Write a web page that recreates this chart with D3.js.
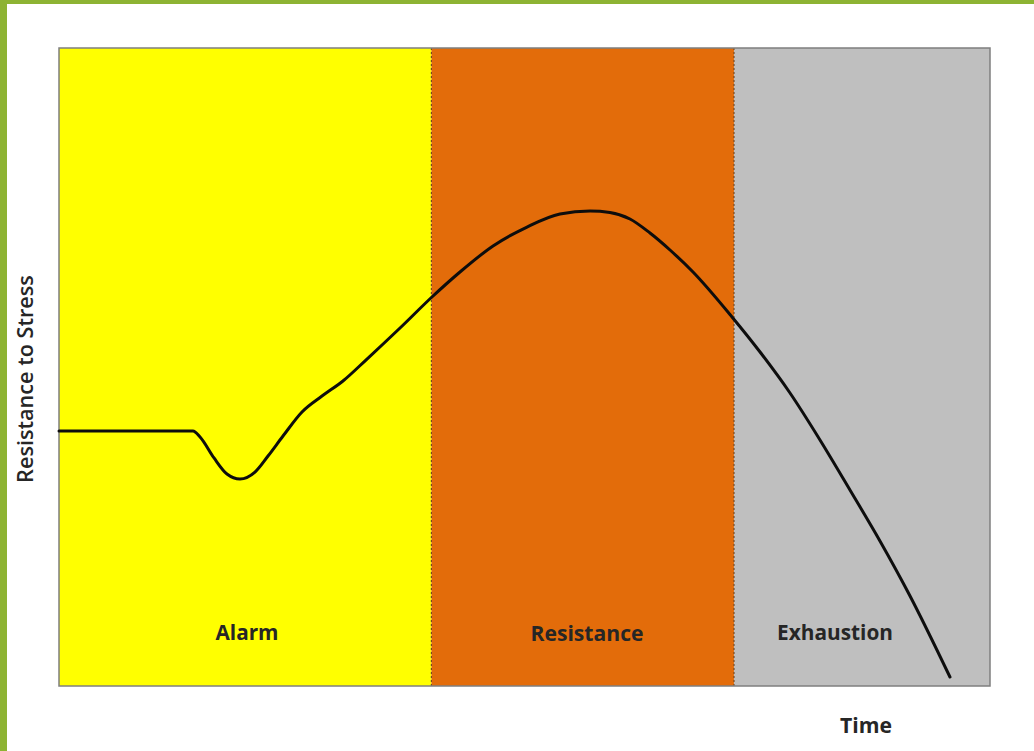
<!DOCTYPE html>
<html><head><meta charset="utf-8">
<script src="https://cdn.jsdelivr.net/npm/d3@7"></script>
<style>html,body{margin:0;padding:0;background:#fff;}svg{display:block;}</style>
</head><body>
<svg id="chart" width="1034" height="751"></svg>
<script>
// Data (time units 0-100, resistance units 0-100)
const phaseNames = ["Alarm", "Resistance", "Exhaustion"];
const phaseStart = [0, 40, 72.5];
const phaseEnd   = [40, 72.5, 100];
const phaseColors = ["#FFFF00", "#E36C0A", "#BFBFBF"];
const curveTime = [0, 14.39, 15.15, 16.65, 18.04, 19.44, 21.05, 22.45, 24.06, 26.10, 28.25, 30.50, 33.08, 36.63, 40.06, 43.07, 46.62, 50.27, 53.81, 57.04, 59.18, 61.33, 63.48, 65.63, 68.10, 72.29, 75.30, 78.52, 81.74, 84.96, 88.18, 91.41, 95.70];
const curveResistance = [39.97, 39.97, 39.03, 35.74, 33.23, 32.45, 33.54, 36.05, 39.18, 42.95, 45.45, 47.81, 51.25, 56.11, 60.97, 64.89, 68.97, 71.94, 73.98, 74.45, 74.22, 73.20, 71.00, 68.34, 64.89, 57.84, 52.35, 45.92, 38.56, 30.72, 22.73, 14.11, 1.41];
const xLabel = "Time";
const yLabel = "Resistance to Stress";

const svg = d3.select("#chart");
const W = 1034, H = 751;
const m = {left: 59, top: 48, right: 1034 - 990, bottom: 751 - 686};

// green frame
svg.append("rect").attr("x",0).attr("y",0).attr("width",W).attr("height",H).attr("fill","#fff");
svg.append("rect").attr("x",0).attr("y",0).attr("width",7).attr("height",H).attr("fill","#8DB333");
svg.append("rect").attr("x",0).attr("y",0).attr("width",W).attr("height",4).attr("fill","#8DB333");

const x = d3.scaleLinear().domain([0,100]).range([m.left, W - m.right]);
const y = d3.scaleLinear().domain([0,100]).range([H - m.bottom, m.top]);

const phases = phaseNames.map((n,i)=>({name:n, s:phaseStart[i], e:phaseEnd[i], c:phaseColors[i]}));

svg.append("g").selectAll("rect").data(phases).join("rect")
  .attr("x", d=>x(d.s)).attr("y", y(100))
  .attr("width", d=>x(d.e)-x(d.s)).attr("height", y(0)-y(100))
  .attr("fill", d=>d.c);

// dashed phase boundaries
svg.append("g").selectAll("line").data(phaseStart.slice(1)).join("line")
  .attr("x1", d=>x(d)).attr("x2", d=>x(d)).attr("y1", y(100)).attr("y2", y(0))
  .attr("stroke", "#7a4a20").attr("stroke-width", 1.2).attr("stroke-dasharray", "2,2");

// frame of plot
svg.append("rect").attr("x", x(0)).attr("y", y(100)).attr("width", x(100)-x(0)).attr("height", y(0)-y(100))
  .attr("fill","none").attr("stroke","#7f7f7f").attr("stroke-width",1.5);

// curve
const pts = curveTime.map((t,i)=>[t, curveResistance[i]]);
svg.append("path").datum(pts)
  .attr("d", d3.line().x(d=>x(d[0])).y(d=>y(d[1])).curve(d3.curveMonotoneX))
  .attr("fill","none").attr("stroke","#0d0d0d").attr("stroke-width",3).attr("stroke-linecap","round").attr("stroke-linejoin","round");

function fitText(sel, targetW) {
  const node = sel.node();
  const w = node.getComputedTextLength();
  const fs = parseFloat(sel.attr("font-size"));
  sel.attr("font-size", fs * targetW / w);
  return fs * targetW / w;
}

const labelCenters = [247, 587, 835];
const labelWidths = [63, 113, 116];
phases.forEach((p,i)=>{
  const t = svg.append("text").text(p.name)
    .attr("font-family","'Open Sans', sans-serif").attr("font-weight",700)
    .attr("font-size",20).attr("fill","#262626").attr("text-anchor","middle")
    .attr("x", labelCenters[i]);
  const fs = fitText(t, labelWidths[i]);
  t.attr("y", 633 + 0.36*fs);
});

const tl = svg.append("text").text(xLabel)
  .attr("font-family","'Open Sans', sans-serif").attr("font-weight",700)
  .attr("font-size",18).attr("fill","#262626").attr("text-anchor","middle").attr("x",866);
const tfs = fitText(tl, 52);
tl.attr("y", 725 + 0.36*tfs);

const yl = svg.append("text").text(yLabel)
  .attr("font-family","'Open Sans', sans-serif").attr("font-weight",600)
  .attr("font-size",18).attr("fill","#262626").attr("text-anchor","middle");
const yfs = fitText(yl, 208);
yl.attr("transform", `translate(${25 + 0.36*yfs},379) rotate(-90)`);
</script>
</body></html>
